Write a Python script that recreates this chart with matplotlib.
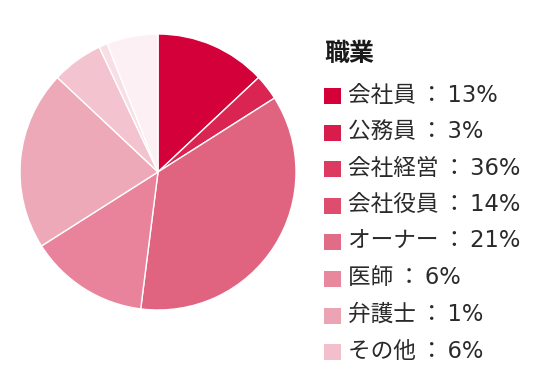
import matplotlib
matplotlib.use("Agg")
import matplotlib.pyplot as plt
from matplotlib.patches import Rectangle

# DejaVu pour les chiffres (proche de Meiryo), Noto CJK pour le japonais
plt.rcParams['font.family'] = ['DejaVu Sans', 'Noto Sans CJK JP']

# Données
title = "職業"
categories = ["会社員", "公務員", "会社経営", "会社役員", "オーナー", "医師", "弁護士", "その他"]
shares = [13, 3, 36, 14, 21, 6, 1, 6]

# Couleurs des secteurs et de la légende
pie_colors = ["#d30039", "#da2451", "#e0637f", "#e8839b", "#eea9b9", "#f3c3cf", "#f8dfe6", "#fdf0f4"]
legend_colors = ["#d4003a", "#d81c4b", "#dc3a60", "#de4d6d", "#e16c87", "#e7889d", "#eca3b4", "#f3bfcc"]

W, H = 540, 391
fig = plt.figure(figsize=(W / 100, H / 100), dpi=100)

# Camembert
cx, cy, r = 158, 172, 138
ax = fig.add_axes([(cx - r) / W, (H - cy - r) / H, 2 * r / W, 2 * r / H])
ax.pie(shares, colors=pie_colors, startangle=90, counterclock=False,
       wedgeprops=dict(edgecolor="white", linewidth=1))
ax.set_xlim(-1, 1)
ax.set_ylim(-1, 1)
ax.set_axis_off()

# Légende dessinée à la main
fig.text(324 / W, 1 - 54 / H, title, fontsize=18, fontweight="bold",
         color="#1a1a1a", va="center", ha="left")
y0, dy = 96, 36.6
for i, (cat, val) in enumerate(zip(categories, shares)):
    y = y0 + i * dy
    fig.add_artist(Rectangle((324 / W, 1 - (y + 8) / H), 17 / W, 16 / H,
                             transform=fig.transFigure, facecolor=legend_colors[i],
                             edgecolor="none"))
    fig.text(348 / W, 1 - (y - 1) / H, f"{cat}\u2009：\u2009{val}%", fontsize=16.3,
             color="#2a2a2a", va="center", ha="left")

fig.savefig("out.png", dpi=100)
